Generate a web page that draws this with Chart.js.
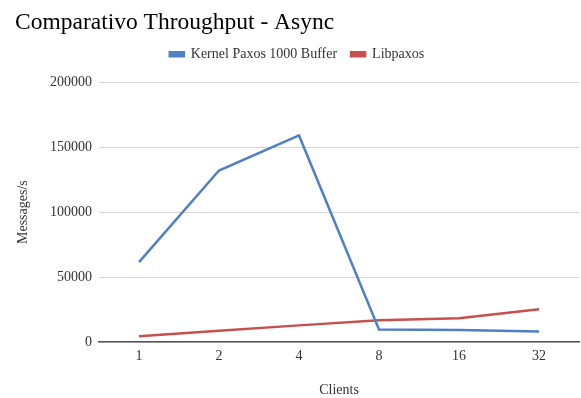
<!DOCTYPE html>
<html>
<head>
<meta charset="utf-8">
<script src="https://cdn.jsdelivr.net/npm/chart.js@4/dist/chart.umd.min.js"></script>
<style>
  html, body { margin: 0; padding: 0; background: #fff; }
  #wrap { width: 581px; height: 398px; position: relative; }
</style>
</head>
<body>
<div id="wrap"><canvas id="c" width="581" height="398"></canvas></div>
<script>
// Throughput per number of clients (messages per second)
const clients = ['1', '2', '4', '8', '16', '32'];
const kernelPaxos = [61500, 132000, 159000, 9700, 9200, 8000];
const libpaxos = [4500, 8600, 12800, 16800, 18200, 25300];
const yTicks = [0, 50000, 100000, 150000, 200000];

const SERIF = '"Liberation Serif", "Times New Roman", serif';
const BLUE = '#4f80c6';
const RED = '#c6504c';

new Chart(document.getElementById('c'), {
  type: 'line',
  data: {
    labels: clients,
    datasets: [
      { label: 'Kernel Paxos 1000 Buffer', data: kernelPaxos, borderColor: BLUE, backgroundColor: BLUE,
        borderWidth: 2.5, pointRadius: 0, tension: 0 },
      { label: 'Libpaxos', data: libpaxos, borderColor: RED, backgroundColor: RED,
        borderWidth: 2.5, pointRadius: 0, tension: 0 }
    ]
  },
  options: {
    responsive: false,
    animation: false,
    layout: { padding: { left: 15, right: 2, top: 4, bottom: 0 } },
    plugins: {
      title: {
        display: true, text: 'Comparativo Throughput - Async', align: 'start',
        color: '#000', font: { family: SERIF, size: 23.5, weight: 'normal' },
        padding: { top: 5, bottom: -4 }
      },
      legend: {
        display: true, position: 'top', align: 'center',
        labels: {
          color: '#333', font: { family: SERIF, size: 14 },
          boxWidth: 14, boxHeight: 4, padding: 14
        }
      },
      tooltip: { enabled: false }
    },
    scales: {
      x: {
        offset: true,
        grid: { display: false, offset: true, drawTicks: false, tickLength: 0 },
        border: { display: true, color: '#555', width: 1.5 },
        ticks: { color: '#333', font: { family: SERIF, size: 14 }, padding: 6 },
        title: { display: true, text: 'Clients', color: '#333', font: { family: SERIF, size: 14 }, padding: { top: 20, bottom: -1 } },
        afterFit(s) { s.height = 56; }
      },
      y: {
        min: 0, max: 200000,
        afterBuildTicks(s) { s.ticks = yTicks.map(v => ({ value: v })); },
        grid: { color: '#d6d6d6', lineWidth: 1, drawTicks: false },
        border: { display: false },
        ticks: { color: '#333', font: { family: SERIF, size: 14 }, padding: 7, callback: v => String(v) },
        title: { display: true, text: 'Messages/s', color: '#333', font: { family: SERIF, size: 14 }, padding: { top: 0, bottom: 4 } },
        afterFit(s) { s.width = 84; }
      }
    }
  },
  plugins: [{
    // extra room below the legend so the plot keeps its top edge
    id: 'legendGap',
    beforeInit(chart) {
      const fit = chart.legend.fit;
      chart.legend.fit = function () { fit.call(this); this.height += 11; };
    }
  }]
});
</script>
</body>
</html>
